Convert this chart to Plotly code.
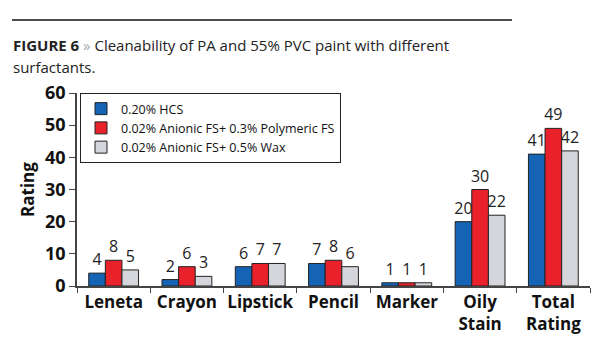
import plotly.graph_objects as go

categories = ["Leneta", "Crayon", "Lipstick", "Pencil", "Marker", "Oily<br>Stain", "Total<br>Rating"]
series_names = ["0.20% HCS", "0.02% Anionic FS+ 0.3% Polymeric FS", "0.02% Anionic FS+ 0.5% Wax"]
hcs = [4, 2, 6, 7, 1, 20, 41]
polymeric = [8, 6, 7, 8, 1, 30, 49]
wax = [5, 3, 7, 6, 1, 22, 42]
colors = ["#1563b4", "#e8212b", "#d4d6db"]

W, H = 615, 350
L, R, T, B = 77, 25, 93, 64
pw, ph = W - L - R, H - T - B

def px_x(x):
    return (x - L) / pw

def px_y(y):
    return (H - B - y) / ph

fig = go.Figure()
for name, vals, col in zip(series_names, [hcs, polymeric, wax], colors):
    fig.add_trace(go.Bar(
        x=categories, y=vals, name=name,
        marker=dict(color=col, line=dict(color="#222222", width=1)),
        text=[str(v) for v in vals], textposition="outside",
        textfont=dict(family="Open Sans", size=16, color="#222"),
        constraintext="none",
        cliponaxis=False,
    ))

fig.update_layout(
    width=W, height=H,
    margin=dict(l=L, r=R, t=T, b=B),
    paper_bgcolor="white", plot_bgcolor="white",
    barmode="group", bargap=0.32, bargroupgap=0,
    font=dict(family="Open Sans", color="#111"),
    uniformtext=dict(mode=False),
    showlegend=True,
    legend=dict(
        x=px_x(80), y=px_y(93), xanchor="left", yanchor="top",
        bordercolor="#222", borderwidth=1, bgcolor="white",
        font=dict(family="Open Sans", size=12.5, color="#111"),
        tracegroupgap=0, itemwidth=30,
    ),
    xaxis=dict(
        showline=True, linecolor="#444", linewidth=1.5,
        ticks="outside", tickson="boundaries", ticklen=5, tickcolor="#444",
        tickfont=dict(family="Open Sans", size=17, color="#111", weight="bold"),
        tickangle=0, automargin=False,
        showgrid=False,
    ),
    yaxis=dict(
        range=[0, 60], dtick=10,
        showline=True, linecolor="#444", linewidth=1.5,
        ticks="outside", ticklen=6, tickcolor="#444",
        tickfont=dict(family="Open Sans", size=18, color="#111", weight="bold"),
        showgrid=False, zeroline=False, automargin=False,
        title=dict(text="<b>Rating</b>", font=dict(family="Open Sans", size=17, color="#111"), standoff=6),
    ),
    shapes=[dict(type="line", xref="paper", yref="paper",
                 x0=px_x(12), x1=px_x(512), y0=px_y(20), y1=px_y(20),
                 line=dict(color="#111", width=1.5))],
    annotations=[
        dict(xref="paper", yref="paper", x=px_x(11), y=px_y(45), xanchor="left", yanchor="middle",
             showarrow=False, align="left",
             text="<b>FIGURE 6</b> <span style='color:#aaaaaa'>»</span> Cleanability of PA and 55% PVC paint with different",
             font=dict(family="Open Sans", size=15, color="#222")),
        dict(xref="paper", yref="paper", x=px_x(11), y=px_y(67), xanchor="left", yanchor="middle",
             showarrow=False, align="left", text="surfactants.",
             font=dict(family="Open Sans", size=15, color="#222")),
    ],
)

fig.write_html("out.html")
